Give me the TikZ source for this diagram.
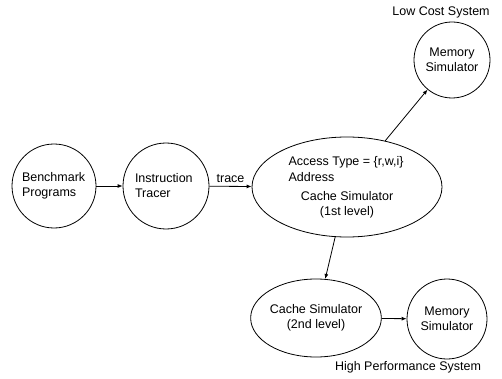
\documentclass[tikz,border=0pt]{standalone}
\usepackage{fontspec}
\setmainfont{Liberation Sans}
\usepackage{tikz}
\usetikzlibrary{shapes.geometric, arrows.meta}

\begin{document}
\begin{tikzpicture}[x=1pt, y=-1pt,
    every node/.style={font=\fontsize{12.5}{15}\selectfont},
    unit/.style={circle, draw, line width=0.8pt, inner sep=0pt},
    sim/.style={ellipse, draw, line width=0.8pt, inner sep=0pt},
    link/.style={line width=0.8pt, -{Latex[length=5pt, width=4pt]}}]
    \useasboundingbox (0, 0) rectangle (502, 379);

    \node[unit, minimum size=84pt, text width=64pt, align=left] (bench) at (54, 186) {Benchmark\\Programs};
    \node[unit, minimum size=86pt, text width=62pt, align=left] (tracer) at (166, 186) {Instruction\\Tracer};
    \node[sim, minimum width=190pt, minimum height=100pt] (cache1) at (347, 187) {};
    \node[anchor=west] (acctype) at (285, 162) {Access Type = \{r,w,i\}};
    \node[anchor=west] (addr) at (285, 177) {Address};
    \node[align=center] (lvl1) at (347, 205) {Cache Simulator\\(1st level)};
    \node[unit, minimum size=76pt, align=center] (memlow) at (452, 60) {Memory\\Simulator};
    \node (lowcost) at (441, 12) {Low Cost System};
    \node[sim, minimum width=124pt, minimum height=78pt, align=center] (cache2) at (316, 318) {Cache Simulator\\(2nd level)};
    \node[unit, minimum size=80pt, align=center] (memhigh) at (447, 319) {Memory\\Simulator};
    \node (highperf) at (408, 367) {High Performance System};

    \draw[link] (bench) -- (tracer);
    \draw[link] (tracer) -- node[above] (tracelbl) {trace} (cache1);
    \draw[link] (cache1) -- (memlow);
    \draw[link] (cache1) -- (cache2);
    \draw[link] (cache2) -- (memhigh);
\end{tikzpicture}
\end{document}
